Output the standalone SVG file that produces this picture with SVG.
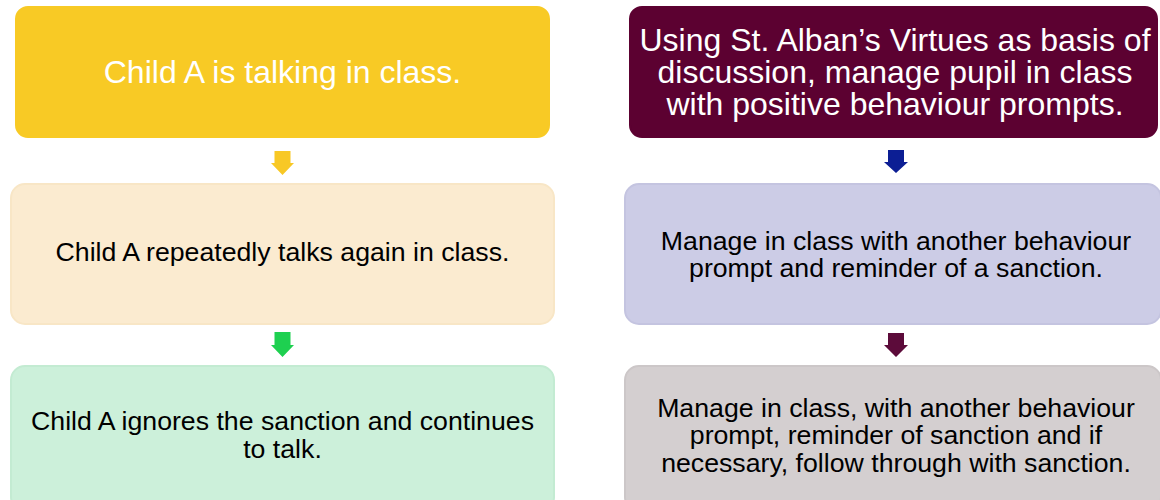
<svg xmlns="http://www.w3.org/2000/svg" width="1160" height="500" viewBox="0 0 1160 500">
<style>
.box{stroke-width:2}
.t{font-family:"Liberation Sans",Arial,sans-serif;text-anchor:middle}
.w{fill:#FFFFFF;font-size:32px}
.b{fill:#000000;font-size:26.7px}
</style>
<rect width="1160" height="500" fill="#FFFFFF"/>
<g id="connectors">
<polygon points="274.5,151 290.5,151 290.5,163 294,163 282.5,175 271,163 274.5,163" fill="#F8C825"/>
<polygon points="888,150 904,150 904,162 908,162 896,173 884,162 888,162" fill="#0C1E94"/>
<polygon points="274.5,332 290.5,332 290.5,345 294,345 282.5,357 271,345 274.5,345" fill="#1ED050"/>
<polygon points="888,333 904,333 904,345 908,345 896,357 884,345 888,345" fill="#5C0B3A"/>
</g>
<g id="n1">
<rect class="box" x="16" y="7" width="533" height="130" rx="12" fill="#F8CA25" stroke="#F8CA25"/>
<text class="t w" x="282.5" y="83">Child A is talking in class.</text>
</g>
<g id="n2">
<rect class="box" x="11" y="184" width="543" height="140" rx="14" fill="#FBEBD0" stroke="#F8E6C6"/>
<text class="t b" x="282.5" y="261">Child A repeatedly talks again in class.</text>
</g>
<g id="n3">
<rect class="box" x="11" y="366" width="543" height="145" rx="14" fill="#CCF0DA" stroke="#C3EBD2"/>
<text class="t b" x="282.5" y="430">Child A ignores the sanction and continues</text>
<text class="t b" x="282.5" y="458">to talk.</text>
</g>
<g id="n4">
<rect class="box" x="630" y="7" width="527" height="130" rx="12" fill="#5C0131" stroke="#5C0131"/>
<text class="t w" x="895" y="51">Using St. Alban’s Virtues as basis of</text>
<text class="t w" x="895" y="83">discussion, manage pupil in class</text>
<text class="t w" x="895" y="115">with positive behaviour prompts.</text>
</g>
<g id="n5">
<rect class="box" x="625" y="184" width="536" height="140" rx="14" fill="#CCCCE6" stroke="#C4C4E0"/>
<text class="t b" x="896" y="250">Manage in class with another behaviour</text>
<text class="t b" x="896" y="277">prompt and reminder of a sanction.</text>
</g>
<g id="n6">
<rect class="box" x="625" y="366" width="536" height="145" rx="14" fill="#D4CFD0" stroke="#CCC7C8"/>
<text class="t b" x="896" y="417">Manage in class, with another behaviour</text>
<text class="t b" x="896" y="444">prompt, reminder of sanction and if</text>
<text class="t b" x="896" y="472">necessary, follow through with sanction.</text>
</g>
</svg>
